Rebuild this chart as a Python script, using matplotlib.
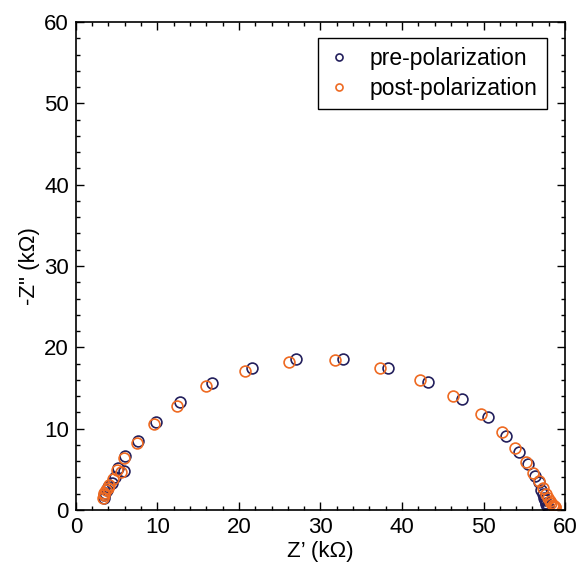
import matplotlib
matplotlib.use('Agg')
from matplotlib import pyplot as plt
from matplotlib.ticker import MultipleLocator

plt.rcParams['font.family'] = ['Liberation Sans', 'DejaVu Sans']

# Nyquist data, Z' and -Z'' in kOhm
pre_x = [3.4, 3.5, 3.6, 3.8, 4.0, 4.4, 4.8, 5.2, 5.9, 6.0, 7.6, 9.8, 12.8,
         16.7, 21.6, 27.0, 32.8, 38.3, 43.2, 47.3, 50.5, 52.7, 54.4, 55.5,
         56.3, 56.8, 57.1, 57.3, 57.4, 57.5, 57.6, 57.7, 57.8, 57.9]
pre_y = [1.5, 1.8, 2.1, 2.4, 2.8, 3.3, 4.0, 5.1, 4.8, 6.6, 8.5, 10.8, 13.3,
         15.6, 17.5, 18.6, 18.5, 17.5, 15.7, 13.6, 11.4, 9.1, 7.1, 5.6,
         4.2, 3.4, 2.4, 1.9, 1.5, 1.2, 0.9, 0.7, 0.5, 0.4]

post_x = [3.3, 3.4, 3.5, 3.7, 3.9, 4.1, 4.6, 5.1, 5.5, 5.9, 7.5, 9.6, 12.4,
          15.9, 20.8, 26.1, 31.8, 37.3, 42.2, 46.3, 49.7, 52.2, 53.9, 55.2,
          56.1, 56.8, 57.3, 57.6, 57.9, 58.1, 58.3, 58.5, 58.6, 58.7, 58.8]
post_y = [1.5, 1.8, 2.1, 2.4, 2.7, 3.1, 3.8, 4.9, 4.7, 6.4, 8.2, 10.5, 12.8,
          15.2, 17.1, 18.2, 18.4, 17.5, 16.0, 14.0, 11.8, 9.6, 7.6, 5.9,
          4.5, 3.5, 2.7, 2.0, 1.5, 1.1, 0.8, 0.6, 0.5, 0.4, 0.3]

fig = plt.figure(figsize=(5.79, 5.69), dpi=100)
ax = fig.add_axes([0.131, 0.104, 0.845, 0.857])

ax.plot(pre_x, pre_y, 'o', mfc='none', mec='#231f5c', mew=1.2, ms=7.8,
        label='pre-polarization')
ax.plot(post_x, post_y, 'o', mfc='none', mec='#ee6a22', mew=1.2, ms=7.8,
        label='post-polarization')

ax.set_xlim(0, 60)
ax.set_ylim(0, 60)
ax.xaxis.set_major_locator(MultipleLocator(10))
ax.yaxis.set_major_locator(MultipleLocator(10))
ax.xaxis.set_minor_locator(MultipleLocator(2))
ax.yaxis.set_minor_locator(MultipleLocator(2))
ax.tick_params(which='both', direction='in', top=True, right=True,
               labelsize=16, width=1)
ax.tick_params(which='major', length=6, pad=5)
ax.tick_params(which='minor', length=3)
for s in ax.spines.values():
    s.set_linewidth(1.2)

ax.set_xlabel("Z\u2019 (k\u03a9)", fontsize=16, labelpad=2)
ax.set_ylabel("-Z\" (k\u03a9)", fontsize=16, labelpad=3)

leg = ax.legend(loc='upper right', fontsize=16.5, markerscale=0.65,
                fancybox=False, edgecolor='black', framealpha=1,
                handlelength=1.0, handletextpad=0.85, borderpad=0.4,
                labelspacing=0.3, borderaxespad=0,
                bbox_to_anchor=(0.963, 0.967))
leg.get_frame().set_linewidth(1.0)

plt.savefig('out.png', dpi=100)
plt.close()
